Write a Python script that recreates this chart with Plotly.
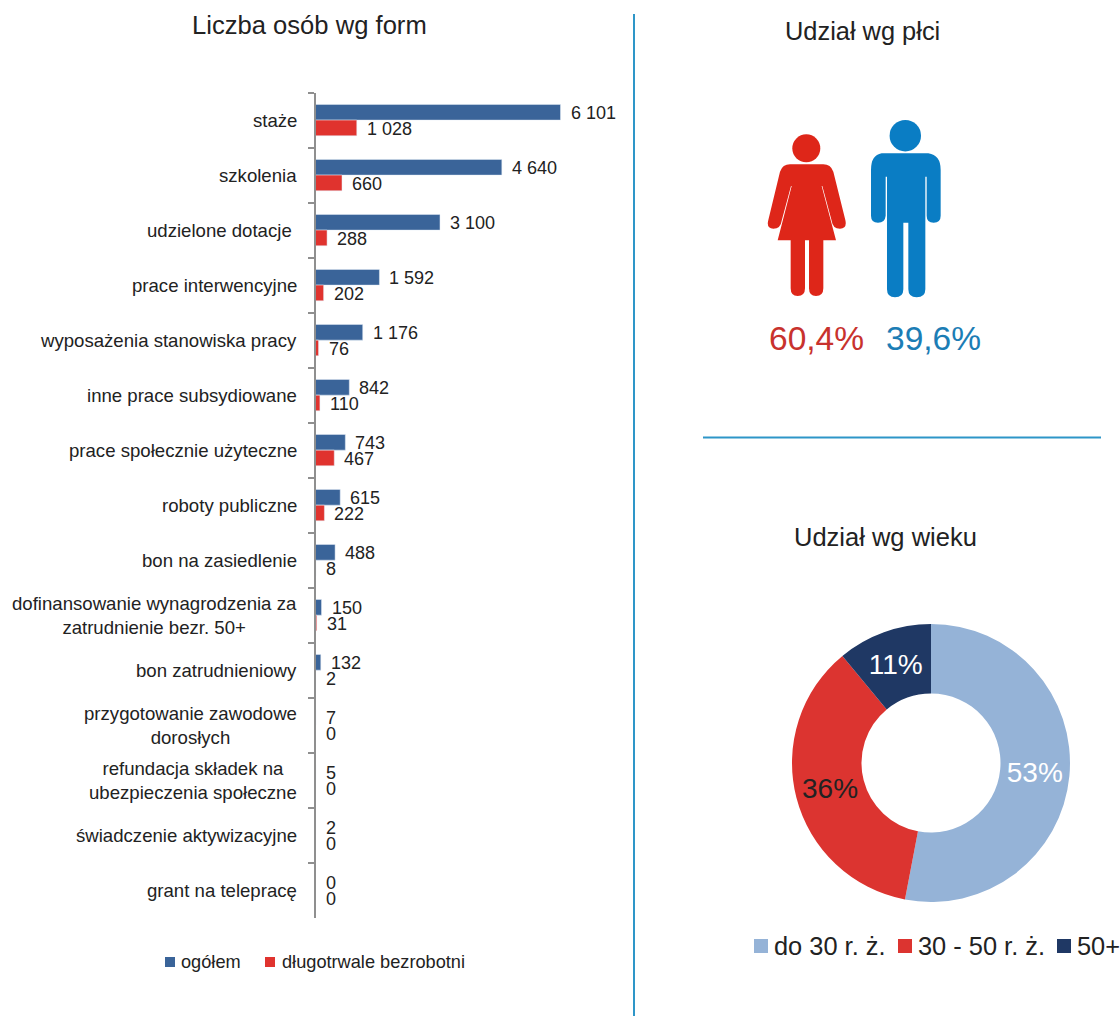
import plotly.graph_objects as go

W, H = 1120, 1016
FONT = "Liberation Sans"

categories = ["staże", "szkolenia", "udzielone dotacje\u00a0", "prace interwencyjne",
              "wyposażenia stanowiska pracy", "inne prace subsydiowane",
              "prace społecznie użyteczne", "roboty publiczne", "bon na zasiedlenie",
              "dofinansowanie wynagrodzenia za<br>zatrudnienie bezr. 50+",
              "bon zatrudnieniowy", "przygotowanie zawodowe<br>dorosłych",
              "refundacja składek na<br>ubezpieczenia społeczne",
              "świadczenie aktywizacyjne", "grant na telepracę"]
total = [6101, 4640, 3100, 1592, 1176, 842, 743, 615, 488, 150, 132, 7, 5, 2, 0]
long_term = [1028, 660, 288, 202, 76, 110, 467, 222, 8, 31, 2, 0, 0, 0, 0]

series_names = ["ogółem", "długotrwale bezrobotni"]
age_labels = ["do 30 r. ż.", "30 - 50 r. ż.", "50+"]
age_values = [53, 36, 11]
age_colors = ["#95B3D7", "#DC3430", "#1F3864"]
age_text_colors = ["#FFFFFF", "#222222", "#FFFFFF"]

gender_shares = ["60,4%", "39,6%"]

BLUE, RED = "#3A6499", "#E0332E"


def px(x):
    return x / W


def py(y):
    return 1 - y / H


fig = go.Figure()
fig.add_bar(y=categories, x=total, orientation="h", name=series_names[0], marker_color=BLUE)
fig.add_bar(y=categories, x=long_term, orientation="h", name=series_names[1], marker_color=RED)
fig.add_pie(labels=age_labels, values=age_values, sort=False, direction="clockwise", rotation=0,
            hole=0.5, marker=dict(colors=age_colors, line=dict(width=0)),
            domain=dict(x=[px(792), px(1070)], y=[py(902), py(624)]),
            texttemplate="%{value}%", textposition="inside", insidetextorientation="horizontal",
            insidetextfont=dict(color=age_text_colors, size=28, family=FONT),
            hoverinfo="label+percent")

ann = []


def text(x, y, s, size, color="#222222", anchor="center"):
    ann.append(dict(x=px(x), y=py(y), xref="paper", yref="paper", text=s, showarrow=False,
                    xanchor=anchor, yanchor="middle", font=dict(family=FONT, size=size, color=color)))


text(309, 25, "Liczba osób wg form", 25.6)
text(862, 31, "Udział wg płci", 25.4)
text(885, 537, "Udział wg wieku", 25.5)
text(816, 338, gender_shares[0], 33.5, "#C8322D")
text(933, 338, gender_shares[1], 33.5, "#1C7DB5")


def spaced(v):
    return f"{v:,}".replace(",", " ")


for cat, a, b in zip(categories, total, long_term):
    ann.append(dict(x=px(299), y=cat, xref="paper", yref="y", text=cat, showarrow=False,
                    xanchor="right", align="center", yanchor="middle",
                    font=dict(family=FONT, size=18.6, color="#222222")))
    for val, shift in ((a, 7), (b, -8.5)):
        ann.append(dict(x=val, y=cat, xref="x", yref="y", text=spaced(val), showarrow=False,
                        xanchor="left", xshift=8, yshift=shift, yanchor="middle",
                        font=dict(family=FONT, size=18, color="#222222")))

X0, SCALE = 315.5, 245 / 6101
XMAX = 7600


def to_paper(cmds, ox=740, oy=100):
    out = []
    for c in cmds:
        letter, nums = c[0], c[1:]
        vals = []
        for i in range(0, len(nums), 2):
            vals.append(f"{px(ox + nums[i] / 3):.5f},{py(oy + nums[i + 1] / 3):.5f}")
        out.append(letter + " ".join(vals))
    return " ".join(out) + " Z"


woman = [("M", 150, 193), ("L", 250, 193), ("Q", 272, 193, 280, 215), ("L", 316, 360),
         ("Q", 322, 385, 300, 386), ("Q", 278, 386, 275, 362), ("L", 247, 258), ("L", 245, 258),
         ("L", 288, 421), ("L", 250, 421), ("L", 250, 565), ("Q", 250, 588, 228, 588),
         ("Q", 207, 588, 207, 565), ("L", 207, 421), ("L", 195, 421), ("L", 195, 565),
         ("Q", 195, 588, 173, 588), ("Q", 152, 588, 152, 565), ("L", 152, 421), ("L", 113, 421),
         ("L", 155, 258), ("L", 153, 258), ("L", 125, 362), ("Q", 122, 386, 100, 386),
         ("Q", 78, 385, 85, 360), ("L", 120, 215), ("Q", 128, 193, 150, 193)]
man = [("M", 425, 160), ("L", 565, 160), ("Q", 602, 165, 602, 210), ("L", 602, 347),
       ("Q", 602, 368, 581, 368), ("Q", 560, 368, 560, 347), ("L", 560, 230), ("L", 556, 230),
       ("L", 556, 568), ("Q", 556, 592, 530, 592), ("Q", 505, 592, 505, 568), ("L", 505, 368),
       ("L", 490, 368), ("L", 490, 568), ("Q", 490, 592, 465, 592), ("Q", 441, 592, 441, 568),
       ("L", 441, 230), ("L", 437, 230), ("L", 437, 347), ("Q", 435, 368, 414, 368),
       ("Q", 393, 368, 393, 347), ("L", 393, 210), ("Q", 393, 165, 425, 160)]

WOMAN_C, MAN_C = "#DE2619", "#0A7DC4"
LINE_C = "#2E96C8"


def circle(cx, cy, r, color):
    return dict(type="circle", xref="paper", yref="paper", x0=px(cx - r), x1=px(cx + r),
                y0=py(cy + r), y1=py(cy - r), fillcolor=color, line_width=0)


def swatch(x0, y0, size, color):
    return dict(type="rect", xref="paper", yref="paper", x0=px(x0), x1=px(x0 + size),
                y0=py(y0 + size), y1=py(y0), fillcolor=color, line_width=0)


shapes = [
    dict(type="line", xref="paper", yref="paper", x0=px(634), x1=px(634), y0=py(14), y1=py(1016),
         line=dict(color=LINE_C, width=2)),
    dict(type="line", xref="paper", yref="paper", x0=px(703), x1=px(1101), y0=py(437.5), y1=py(437.5),
         line=dict(color=LINE_C, width=2)),
    circle(806.3, 148.3, 14, WOMAN_C),
    circle(905.3, 135.7, 15.7, MAN_C),
    dict(type="path", xref="paper", yref="paper", path=to_paper(woman), fillcolor=WOMAN_C, line_width=0),
    dict(type="path", xref="paper", yref="paper", path=to_paper(man), fillcolor=MAN_C, line_width=0),
]

# hand-placed legends, tight as in the reference
for name, color, sx, tx in zip(series_names, (BLUE, RED), (165, 265), (178.5, 279.5)):
    shapes.append(swatch(sx, 957, 10, color))
    text(tx, 962, name, 18.2, anchor="left")
for name, color, sx, tx in zip(age_labels, age_colors, (754, 898, 1057), (771.5, 916, 1075)):
    shapes.append(swatch(sx, 939, 14, color))
    text(tx, 946, name, 25.4, anchor="left")

fig.update_layout(
    width=W, height=H, margin=dict(l=0, r=0, t=0, b=0), autosize=False,
    paper_bgcolor="white", plot_bgcolor="white", showlegend=False,
    font=dict(family=FONT, color="#222222"),
    barmode="group", bargap=0.43, bargroupgap=0,
    xaxis=dict(domain=[px(X0), px(X0 + XMAX * SCALE)], range=[0, XMAX], visible=False),
    yaxis=dict(domain=[py(917.7), py(92.6)], autorange="reversed", type="category",
               showticklabels=False, showgrid=False, zeroline=False,
               showline=True, linecolor="#8F8F8F", linewidth=2,
               ticks="outside", ticklen=6, tickwidth=2, tickcolor="#8F8F8F", tickson="boundaries"),
    annotations=ann, shapes=shapes,
)

fig.write_html("out.html", config={"displayModeBar": False},
               post_script="document.body.style.margin='0';")
